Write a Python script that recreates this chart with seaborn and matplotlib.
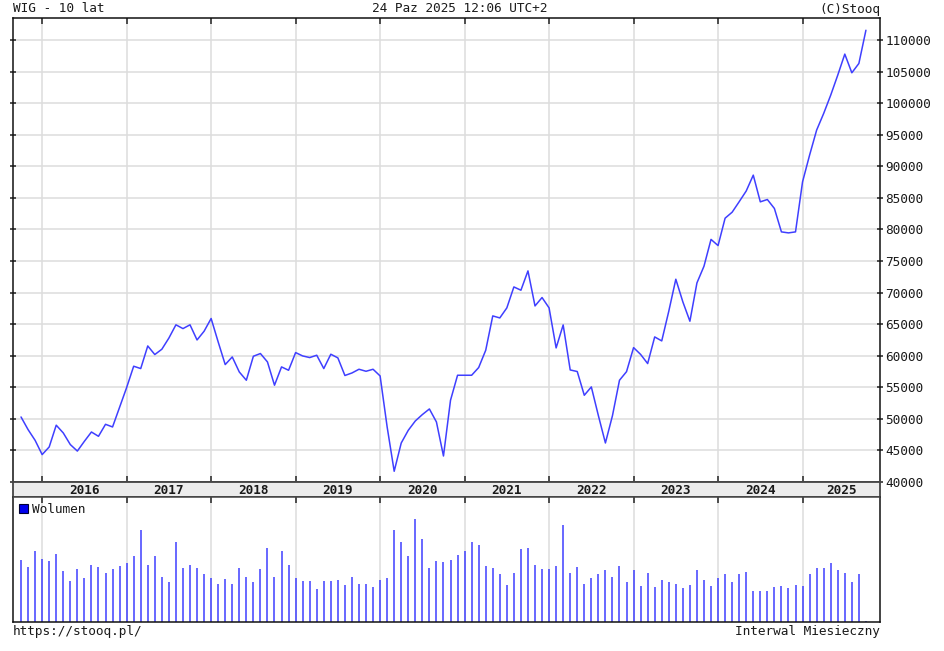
import numpy as np
import pandas as pd
import matplotlib
matplotlib.use("Agg")
import matplotlib.pyplot as plt
import seaborn as sns
from matplotlib.patches import Patch

# ---------------- data ----------------
title_left = "WIG - 10 lat"
title_center = "24 Paz 2025 12:06 UTC+2"
title_right = "(C)Stooq"
footer_left = "https://stooq.pl/"
footer_right = "Interwal Miesieczny"
volume_label = "Wolumen"

start_month = "2015-10-01"
end_month = "2025-10-01"
years = [2016, 2017, 2018, 2019, 2020, 2021, 2022, 2023, 2024, 2025]

price = [
    50300, 48300, 46600,
    44340, 45550, 49000, 47770, 45930, 44900, 46450, 47920, 47240, 49140, 48720, 51840,
    54960, 58340, 57970, 61550, 60190, 61030, 62800, 64900, 64300, 64900, 62500, 63880,
    65900, 62190, 58600, 59810, 57430, 56120, 59920, 60350, 59020, 55330, 58230, 57700,
    60500, 59970, 59710, 60080, 57970, 60240, 59660, 56870, 57270, 57860, 57540, 57860,
    56800, 48720, 41700, 46180, 48190, 49670, 50680, 51570, 49510, 44120, 52950, 56910,
    56910, 56910, 58130, 60870, 66310, 65990, 67580, 70900, 70380, 73440, 67890, 69220,
    67580, 61240, 64880, 57750, 57500, 53740, 55060, 50520, 46180, 50500, 56120, 57480,
    61290, 60210, 58760, 62980, 62350, 67050, 72120, 68530, 65470, 71540, 74180, 78430,
    77450, 81790, 82740, 84400, 86100, 88610, 84380, 84750, 83330, 79620, 79460, 79620,
    87550, 91780, 95740, 98380, 101280, 104450, 107780, 104820, 106300, 111560,
]

volume = [
    184, 163, 212,
    188, 181, 202, 150, 122, 157, 132, 170, 163, 146, 157, 167,
    174, 195, 272, 170, 195, 135, 118, 237, 160, 170, 160, 142,
    132, 114, 128, 114, 160, 135, 118, 156, 219, 135, 212, 170,
    132, 121, 121, 97, 121, 121, 125, 111, 135, 114, 114, 104,
    125, 132, 272, 237, 195, 306, 247, 160, 181, 177, 184, 198,
    212, 237, 230, 167, 160, 142, 111, 146, 216, 219, 170, 156,
    156, 167, 289, 146, 163, 114, 132, 142, 153, 135, 167, 118,
    153, 107, 146, 104, 125, 118, 114, 100, 111, 153, 125, 107,
    132, 142, 118, 142, 149, 93, 93, 93, 104, 107, 100, 111,
    107, 142, 160, 160, 174, 153, 146, 118, 142, 3,
]

price_ticks = list(range(40000, 110001, 5000))

months = pd.date_range(start_month, end_month, freq="MS")
df = pd.DataFrame({"month": months, "price": price, "volume": volume})
df["pos"] = np.arange(len(df))
year_start_pos = [int(df.index[(df.month.dt.year == y) & (df.month.dt.month == 1)][0]) for y in years]

# ---------------- style ----------------
sns.set_style("white")
plt.rcParams["font.family"] = ["DejaVu Sans Mono"]
FS = 9.2
LINE_C = "#3f3fff"
GRID_C = "#dddddd"
TXT_C = "#1a1a1a"

W, H = 945, 651
fig = plt.figure(figsize=(W / 100, H / 100), dpi=100)
fig.patch.set_facecolor("white")


def rect(l, t, r, b):
    return [l / W, 1 - b / H, (r - l) / W, (b - t) / H]


ax = fig.add_axes(rect(13, 18, 880, 482))
band = fig.add_axes(rect(13, 482, 880, 497))
axv = fig.add_axes(rect(13, 497, 880, 622))

XLIM = (-1.14, 122.0)

# ---------------- price panel ----------------
sns.lineplot(data=df, x="pos", y="price", ax=ax, color=LINE_C, linewidth=1.1)
ax.set_xlim(*XLIM)
ax.set_ylim(40000, 113500)
ax.set_xticks(year_start_pos)
ax.set_yticks(price_ticks)
ax.set_yticklabels([str(v) for v in price_ticks])
ax.grid(True, color=GRID_C, linewidth=1.1)
ax.set_axisbelow(True)
ax.set_xlabel("")
ax.set_ylabel("")
ax.tick_params(axis="x", top=True, bottom=True, direction="in", length=4,
               width=1.1, color="#222222", labelbottom=False)
ax.tick_params(axis="y", left=True, right=True, labelleft=False, labelright=True,
               direction="inout", length=5, width=1.1, color="#222222",
               pad=1.5, labelsize=FS, labelcolor=TXT_C)
for s in ax.spines.values():
    s.set_color("#111111")
    s.set_linewidth(1.1)
ax.spines["bottom"].set_color("#444444")

# ---------------- year band ----------------
band.set_facecolor("#ececec")
band.set_xlim(*XLIM)
band.set_ylim(0, 1)
band.set_xticks([])
band.set_yticks([])
for s in band.spines.values():
    s.set_color("#444444")
    s.set_linewidth(1.3)
for y, p in zip(years, year_start_pos):
    c = min(p + 6, (p + XLIM[1]) / 2)
    band.text(c, 0.45, str(y), ha="center", va="center", fontsize=FS,
              color=TXT_C, fontweight="bold")

# ---------------- volume panel ----------------
axv.vlines(df["pos"], 0, df["volume"], color=LINE_C, linewidth=1.1)
axv.set_xlim(*XLIM)
axv.set_ylim(0, 371)
axv.set_xticks(year_start_pos)
axv.set_yticks([])
axv.grid(True, axis="x", color=GRID_C, linewidth=1.1)
axv.set_axisbelow(True)
axv.tick_params(axis="x", top=True, bottom=False, direction="in", length=4,
                width=1.1, color="#222222", labelbottom=False)
for s in axv.spines.values():
    s.set_color("#111111")
    s.set_linewidth(1.1)
axv.spines["top"].set_color("#444444")
leg = axv.legend(handles=[Patch(facecolor="#0000ee", edgecolor="#000033", linewidth=0.8)],
                 labels=[volume_label], loc="upper left", bbox_to_anchor=(0.0, 1.0),
                 frameon=False, handlelength=0.75, handleheight=0.75,
                 handletextpad=0.25, borderaxespad=0.25, borderpad=0.2,
                 fontsize=FS)
for t in leg.get_texts():
    t.set_color(TXT_C)

# ---------------- header / footer ----------------
fig.text(13 / W, 1 - 9 / H, title_left, ha="left", va="center", fontsize=FS, color=TXT_C)
fig.text(460 / W, 1 - 9 / H, title_center, ha="center", va="center", fontsize=FS, color=TXT_C)
fig.text(880 / W, 1 - 9 / H, title_right, ha="right", va="center", fontsize=FS, color=TXT_C)
fig.text(13 / W, 1 - 632 / H, footer_left, ha="left", va="center", fontsize=FS, color=TXT_C)
fig.text(880 / W, 1 - 632 / H, footer_right, ha="right", va="center", fontsize=FS, color=TXT_C)

fig.savefig("out.png", dpi=100, facecolor="white")
